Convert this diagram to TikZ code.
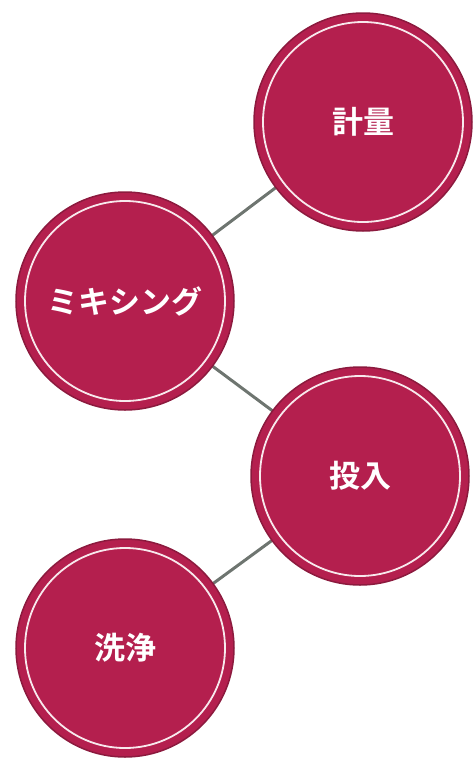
\documentclass[tikz,border=0pt]{standalone}
\usepackage{fontspec}
\newfontfamily\jpfont{Noto Sans CJK JP}[BoldFont={* Bold}]
\definecolor{crim}{HTML}{B41F4E}
\definecolor{crimedge}{HTML}{8C1A3E}
\definecolor{linkgray}{HTML}{6E7570}
\tikzset{
  x=1pt,y=1pt,
  stepcircle/.style={circle, minimum size=218pt, inner sep=0pt, fill=crim, draw=crimedge, line width=1.5pt,
    text=white, font=\jpfont\bfseries\fontsize{31}{36}\selectfont,
    path picture={\draw[white!90!crim, line width=1.8pt] (path picture bounding box.center) circle (100pt);}},
  link/.style={draw=linkgray, line width=3pt}
}
\begin{document}
\begin{tikzpicture}
\useasboundingbox (0,0) rectangle (473,-761);
\coordinate (c1) at (363,-122);
\coordinate (c2) at (125,-301);
\coordinate (c3) at (360,-476);
\coordinate (c4) at (125,-648);
\draw[link] (c2) -- (c1);
\draw[link] (c2) -- (c3);
\draw[link] (c4) -- (c3);
\node[stepcircle] (n1) at (c1) {計量};
\node[stepcircle] (n2) at (c2) {ミキシング};
\node[stepcircle] (n3) at (c3) {投入};
\node[stepcircle] (n4) at (c4) {洗浄};
\end{tikzpicture}
\end{document}
